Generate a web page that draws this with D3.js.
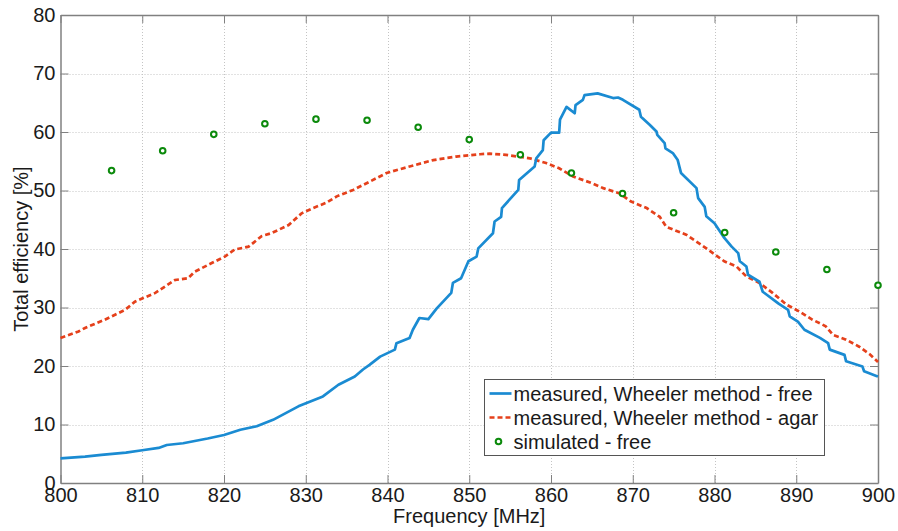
<!DOCTYPE html>
<html>
<head>
<meta charset="utf-8">
<script src="https://cdn.jsdelivr.net/npm/d3@7"></script>
<style>
  body { margin: 0; background: #fff; }
  svg { display: block; font-family: "Liberation Sans", Arial, sans-serif; }
</style>
</head>
<body>
<div id="chart"></div>
<script>
// measured, Wheeler method - free  [MHz, %]
const freeFreq = [800, 803, 805, 808, 810, 812, 813, 815, 818, 820, 822, 824, 826, 829.1, 832.1, 834, 836, 837, 837.8, 839.1, 840.9, 841.1, 842.7, 843.1, 843.9, 845, 846, 847, 847.8, 848, 849, 849.9, 850.9, 851.1, 852.9, 853.1, 853.9, 854, 856, 856.1, 858, 858.2, 859, 859.1, 860, 861, 861.1, 861.9, 862.9, 863, 863.9, 864.1, 865.7, 867.6, 868.2, 868.8, 870.8, 871, 872.1, 872.9, 873, 873.9, 874, 874.9, 875.5, 875.9, 877.8, 878, 878.8, 879, 880, 881.2, 882.1, 882.9, 883.1, 883.9, 884.1, 885.5, 885.9, 887.8, 889, 889.2, 890.2, 891, 892.9, 893.9, 894.1, 895.9, 896.1, 898.1, 898.3, 899.8, 900];
const freeEff = [4.2, 4.5, 4.8, 5.2, 5.6, 6.0, 6.5, 6.8, 7.6, 8.2, 9.1, 9.7, 10.8, 13.1, 14.8, 16.8, 18.2, 19.4, 20.2, 21.6, 22.8, 23.9, 24.8, 26.2, 28.2, 28.0, 29.8, 31.3, 32.5, 34.2, 35.0, 37.9, 38.7, 40.1, 42.7, 44.7, 45.5, 47.0, 50.1, 51.8, 54.1, 55.5, 56.9, 58.6, 59.9, 59.9, 62.1, 64.3, 63.2, 64.6, 65.5, 66.3, 66.6, 65.8, 65.9, 65.5, 63.8, 62.6, 61.2, 60.1, 59.5, 58.1, 57.2, 56.4, 55.2, 53.0, 50.4, 48.7, 47.2, 45.6, 44.4, 41.9, 40.4, 39.3, 37.9, 37.0, 35.6, 34.4, 32.7, 30.7, 29.6, 28.5, 27.6, 26.2, 24.8, 23.9, 22.8, 21.9, 20.8, 19.9, 19.1, 18.3, 18.2];

// measured, Wheeler method - agar
const agarFreq = [800, 802.2, 803, 805.4, 807.9, 809.1, 811.6, 812.8, 814, 815.6, 816.4, 818.5, 820.1, 821.3, 823, 824.6, 825.8, 827.9, 829.5, 830.9, 832.5, 833.8, 835.8, 837.8, 839.9, 842.7, 845.6, 848.4, 851.3, 852.5, 854.5, 857.4, 859.4, 861, 862.7, 865.1, 866.4, 868.4, 869.8, 871.7, 873.3, 874.1, 876.6, 878.5, 879.8, 881.2, 882.7, 883.9, 885.5, 887.1, 888.8, 890.4, 892, 893.6, 894.5, 896.1, 897.7, 899, 900];
const agarEff = [24.8, 25.9, 26.5, 27.9, 29.6, 31.0, 32.5, 33.6, 34.7, 35.0, 36.1, 37.6, 38.7, 39.9, 40.4, 42.2, 42.7, 44.1, 46.1, 47.0, 47.9, 49.0, 50.1, 51.5, 53.0, 54.1, 55.2, 55.8, 56.2, 56.3, 56.1, 55.5, 54.7, 53.8, 52.4, 51.2, 50.4, 49.5, 48.1, 47.0, 45.5, 43.8, 42.4, 40.6, 39.3, 37.9, 37.0, 35.3, 34.2, 32.5, 30.5, 29.3, 27.9, 26.8, 25.3, 24.5, 23.3, 22.0, 20.7];

// simulated - free
const simFreq = [806.25, 812.5, 818.75, 825, 831.25, 837.5, 843.75, 850, 856.25, 862.5, 868.75, 875, 881.25, 887.5, 893.75, 900];
const simEff = [53.4, 56.8, 59.6, 61.4, 62.2, 62.0, 60.8, 58.7, 56.1, 53.0, 49.5, 46.2, 42.8, 39.5, 36.5, 33.8];

const xTicks = d3.range(800, 901, 10);
const yTicks = d3.range(0, 81, 10);

const width = 898, height = 531;
const margin = { left: 60.5, right: 20, top: 15, bottom: 48 };
const x0 = margin.left, x1 = width - margin.right;
const y0 = height - margin.bottom, y1 = margin.top;

const x = d3.scaleLinear().domain([800, 900]).range([x0, x1]);
const y = d3.scaleLinear().domain([0, 80]).range([y0, y1]);

const svg = d3.select("#chart").append("svg")
    .attr("width", width)
    .attr("height", height);

// grid
const grid = svg.append("g")
    .attr("stroke", "#c4c4c4")
    .attr("stroke-width", 1)
    .attr("stroke-dasharray", "1,2");
grid.selectAll(".gx").data(xTicks.slice(1, -1)).join("line")
    .attr("x1", d => Math.round(x(d)) + 0.5).attr("x2", d => Math.round(x(d)) + 0.5)
    .attr("y1", y0).attr("y2", y1);
grid.selectAll(".gy").data(yTicks.slice(1, -1)).join("line")
    .attr("y1", d => Math.round(y(d)) + 0.5).attr("y2", d => Math.round(y(d)) + 0.5)
    .attr("x1", x0).attr("x2", x1);

// axes with inward ticks on all four sides
const tickLen = 8;
const axStroke = "#808080";
const xAxisB = d3.axisBottom(x).tickValues(xTicks).tickSizeInner(-tickLen).tickSizeOuter(0).tickPadding(5);
const yAxisL = d3.axisLeft(y).tickValues(yTicks).tickSizeInner(-tickLen).tickSizeOuter(0).tickPadding(5);
const xAxisT = d3.axisTop(x).tickValues(xTicks).tickSizeInner(-tickLen).tickSizeOuter(0).tickFormat("");
const yAxisR = d3.axisRight(y).tickValues(yTicks).tickSizeInner(-tickLen).tickSizeOuter(0).tickFormat("");

function styleAxis(g) {
    g.selectAll("path").attr("stroke", axStroke).attr("stroke-width", 1.5);
    g.selectAll("line").attr("stroke", axStroke);
    g.selectAll("text").attr("fill", "#1a1a1a").style("font-size", "20px");
}

svg.append("g").attr("transform", `translate(0,${y0})`).call(xAxisB).call(styleAxis);
svg.append("g").attr("transform", `translate(${x0},0)`).call(yAxisL).call(styleAxis);
svg.append("g").attr("transform", `translate(0,${y1})`).call(xAxisT).call(styleAxis);
svg.append("g").attr("transform", `translate(${x1},0)`).call(yAxisR).call(styleAxis);

// axis labels
svg.append("text")
    .attr("x", (x0 + x1) / 2).attr("y", 523)
    .attr("text-anchor", "middle")
    .attr("fill", "#1a1a1a")
    .style("font-size", "20px")
    .text("Frequency [MHz]");
svg.append("text")
    .attr("transform", `translate(28,${(y0 + y1) / 2}) rotate(-90)`)
    .attr("text-anchor", "middle")
    .attr("fill", "#1a1a1a")
    .style("font-size", "20px")
    .text("Total efficiency [%]");

// series
const line = d3.line().x(d => x(d[0])).y(d => y(d[1]));
const plot = svg.append("g");

plot.append("path")
    .datum(d3.zip(agarFreq, agarEff))
    .attr("fill", "none")
    .attr("stroke", "#e5401b")
    .attr("stroke-width", 2.7)
    .attr("stroke-dasharray", "5,3")
    .attr("d", line);

plot.append("path")
    .datum(d3.zip(freeFreq, freeEff))
    .attr("fill", "none")
    .attr("stroke", "#1a8bd2")
    .attr("stroke-width", 2.7)
    .attr("stroke-linejoin", "round")
    .attr("d", line);

plot.selectAll(".sim")
    .data(d3.zip(simFreq, simEff))
    .join("circle")
    .attr("cx", d => x(d[0]))
    .attr("cy", d => y(d[1]))
    .attr("r", 2.8)
    .attr("fill", "#fff")
    .attr("stroke", "#0b8a0b")
    .attr("stroke-width", 2);

// legend
const legendItems = [
    { label: "measured, Wheeler method - free", type: "line", color: "#1a8bd2", dash: null },
    { label: "measured, Wheeler method - agar", type: "line", color: "#e5401b", dash: "5,3" },
    { label: "simulated - free", type: "dot", color: "#0b8a0b" }
];
const lg = svg.append("g").attr("transform", "translate(484.5,379.5)");
lg.append("rect")
    .attr("width", 340).attr("height", 76)
    .attr("fill", "#fff")
    .attr("stroke", "#555")
    .attr("stroke-width", 1);
const rows = lg.selectAll(".row").data(legendItems).join("g")
    .attr("transform", (d, i) => `translate(0,${14 + i * 24})`);
rows.filter(d => d.type === "line").append("line")
    .attr("x1", 5).attr("x2", 27)
    .attr("stroke", d => d.color)
    .attr("stroke-width", 2.7)
    .attr("stroke-dasharray", d => d.dash);
rows.filter(d => d.type === "dot").append("circle")
    .attr("cx", 14).attr("r", 2.8)
    .attr("fill", "#fff")
    .attr("stroke", d => d.color)
    .attr("stroke-width", 2);
rows.append("text")
    .attr("x", 29).attr("dy", "0.35em")
    .attr("fill", "#1a1a1a")
    .style("font-size", "20px")
    .text(d => d.label);
</script>
</body>
</html>
